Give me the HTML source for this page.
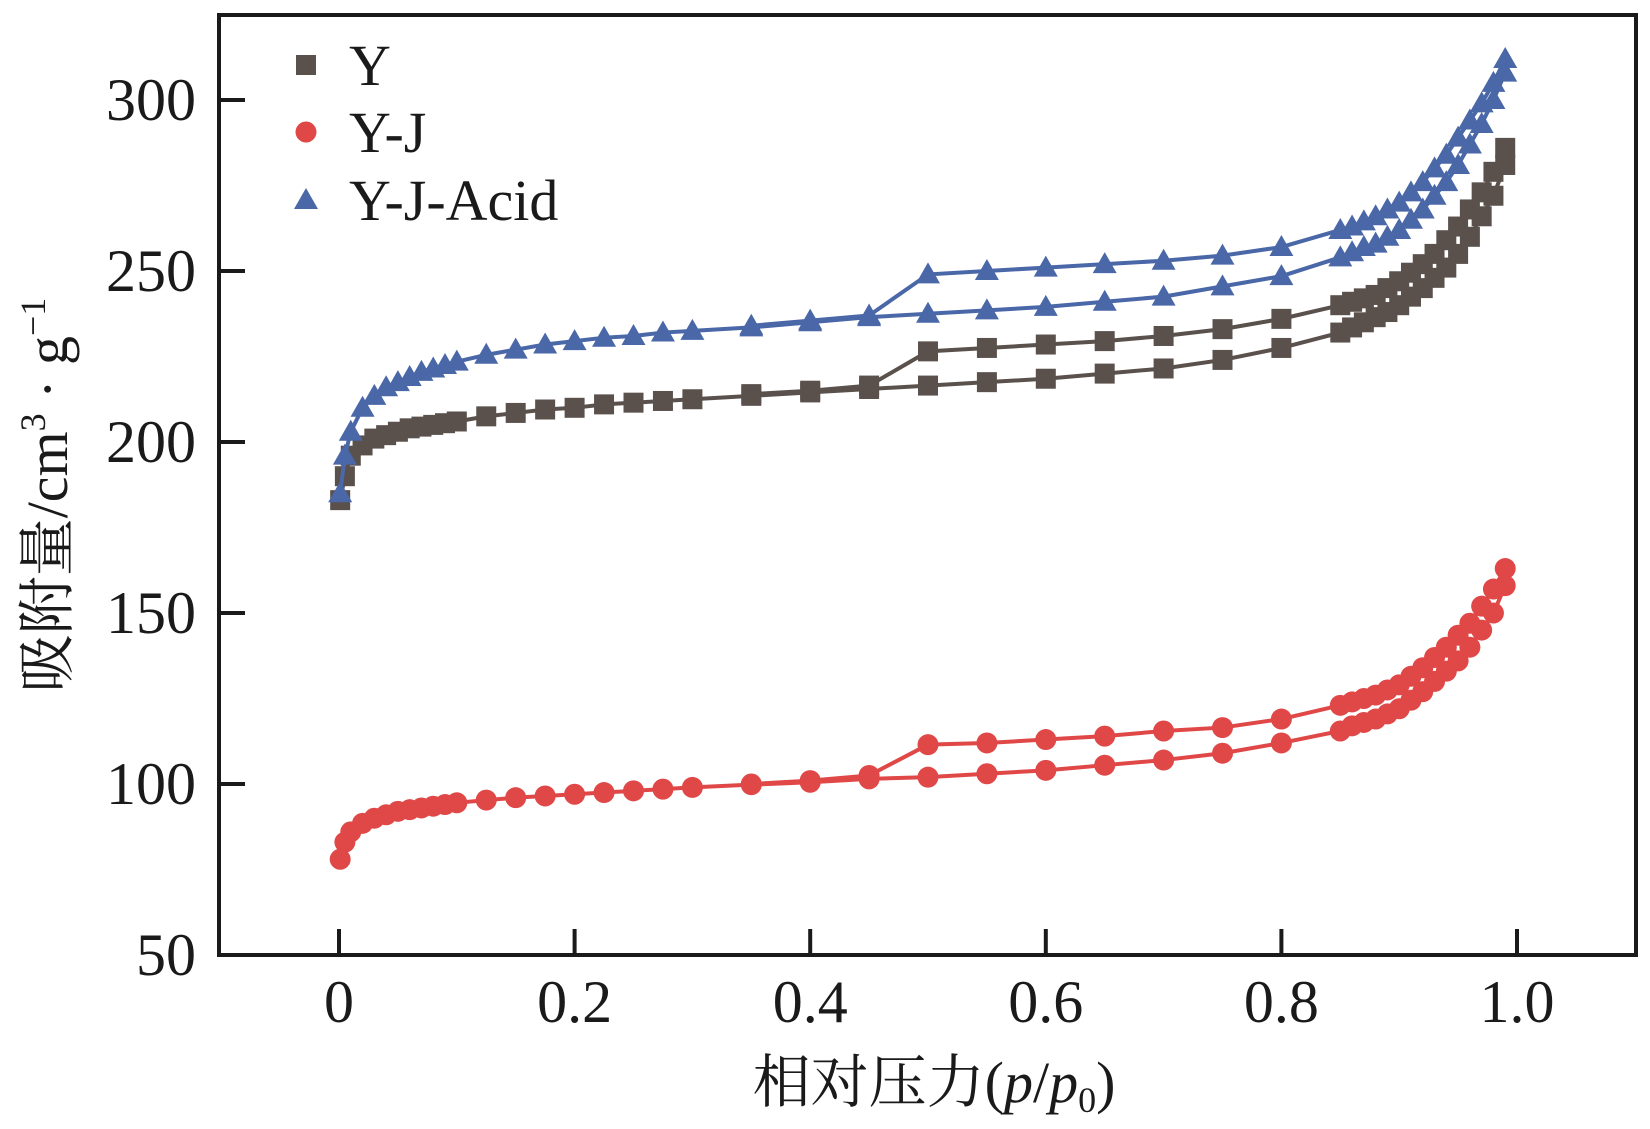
<!DOCTYPE html>
<html><head><meta charset="utf-8"><style>
html,body{margin:0;padding:0;background:#fff;}
svg{display:block;}
text{font-family:"Liberation Serif","Noto Serif CJK SC",serif;fill:#1a1a1a;}
</style></head><body>
<svg id="chart" width="1650" height="1129" viewBox="0 0 1650 1129" xmlns="http://www.w3.org/2000/svg">
<g id="marks"></g>
<g id="axes"></g>
</svg>
<script>
const xTicks=[0,0.2,0.4,0.6,0.8,1.0];
const xTickLabels=["0","0.2","0.4","0.6","0.8","1.0"];
const yTicks=[50,100,150,200,250,300];
const pAds=[0.001,0.005,0.01,0.02,0.03,0.04,0.05,0.06,0.07,0.08,0.09,0.1,0.125,0.15,0.175,0.2,0.225,0.25,0.275,0.3,0.35,0.4,0.45,0.5,0.55,0.6,0.65,0.7,0.75,0.8,0.85,0.86,0.87,0.88,0.89,0.9,0.91,0.92,0.93,0.94,0.95,0.96,0.97,0.98,0.99];
const pDes=[0.99,0.98,0.97,0.96,0.95,0.94,0.93,0.92,0.91,0.9,0.89,0.88,0.87,0.86,0.85,0.8,0.75,0.7,0.65,0.6,0.55,0.5,0.45,0.4,0.35];
const yAds=[183,190,196,199,201,202,203,204,204.5,205,205.5,206,207.5,208.5,209.5,210,211,211.5,212,212.5,213.5,214.5,215.5,216.5,217.5,218.5,220,221.5,224,227.5,232,233.5,235,236.5,238,240,242.5,245,248,251,255,260,266,272,281];
const yDes=[286,279,273,268,263,259,255,252,249.5,247,245,243,242,241,240,236,233,231,229.5,228.5,227.5,226.5,216.5,215,214];
const yjAds=[78,83,86,88.5,90,91,92,92.5,93,93.5,94,94.5,95.3,96,96.5,97,97.5,98,98.5,99,99.8,100.5,101.5,102,103,104,105.5,107,109,112,115.5,117,118,119,120.5,122,124.5,127,130,133,136,140,145,150,158];
const yjDes=[163,157,152,147,143.5,140,137,134,131.5,129,127.5,126,125,124,123,119,116.5,115.5,114,113,112,111.5,102.5,101,100];
const acAds=[185,196,203,210,213.5,216,217.5,219,220.5,221.5,222.5,223.5,225.5,227,228.5,229.5,230.5,231,232,232.5,233.5,235,236.5,237.5,238.5,239.5,241,242.5,245.5,248.5,254,255.5,257,258,260,262,265,268,272,276,281,287,293,300,308];
const acDes=[312,305,299,294,289,284,280,276,273,270,268,266,264.5,263,262,257,254.5,253,252,251,250,249,237,235.5,234];

const X0=219,X1=1636,Y0=15,Y1=955;
const xs=v=>339+v*1178;
const ys=v=>955-(v-50)*3.42;
const NS="http://www.w3.org/2000/svg";
const marks=document.getElementById('marks'),axes=document.getElementById('axes');
function mk(tag,attrs,parent){const e=document.createElementNS(NS,tag);for(const k in attrs)e.setAttribute(k,attrs[k]);parent.appendChild(e);return e;}

function marker(kind,x,y,color,parent){
  let e;
  if(kind==='sq'){e=mk('rect',{x:x-10,y:y-10,width:20,height:20,fill:color},parent);}
  else if(kind==='ci'){e=mk('circle',{cx:x,cy:y,r:10.5,fill:color},parent);}
  else{e=mk('polygon',{points:`${x},${y-12} ${x+12},${y+9} ${x-12},${y+9}`,fill:color},parent);}
  return e;
}
function series(name,kind,color,ads,des){
  const g=mk('g',{},marks);
  
  
  const d1=pAds.map((p,i)=>(i?'L':'M')+xs(p)+','+ys(ads[i])).join(' ');
  const d2=pDes.map((p,i)=>(i?'L':'M')+xs(p)+','+ys(des[i])).join(' ');
  const l1=mk('path',{d:d1,fill:'none',stroke:color,'stroke-width':4},g);
  
  
  const l2=mk('path',{d:d2,fill:'none',stroke:color,'stroke-width':4},g);
  
  
  pAds.forEach((p,i)=>{const m=marker(kind,xs(p),ys(ads[i]),color,g);
    
    });
  pDes.forEach((p,i)=>{const m=marker(kind,xs(p),ys(des[i]),color,g);
    
    });
}
series('y-j','ci','#e04848',yjAds,yjDes);
series('y','sq','#5a514d',yAds,yDes);
series('y-j-acid','tr','#4a67a8',acAds,acDes);

// frame
const fr=mk('rect',{x:X0,y:Y0,width:X1-X0,height:Y1-Y0,fill:'none',stroke:'#1a1a1a','stroke-width':4},axes);


xTicks.forEach((t,i)=>{
  const tk=mk('line',{x1:xs(t),x2:xs(t),y1:Y1,y2:Y1-26,stroke:'#1a1a1a','stroke-width':4},axes);
  
  
  const tx=mk('text',{x:xs(t),y:1022,'font-size':60,'text-anchor':'middle'},axes);
  tx.textContent=xTickLabels[i];
  
  
});
yTicks.forEach(t=>{
  const tk=mk('line',{x1:X0,x2:X0+26,y1:ys(t),y2:ys(t),stroke:'#1a1a1a','stroke-width':4},axes);
  
  
  const tx=mk('text',{x:196,y:ys(t)+20,'font-size':60,'text-anchor':'end'},axes);
  tx.textContent=String(t);
  
  
});
// legend
const leg=[['Y','sq','#5a514d',65],['Y-J','ci','#e04848',132],['Y-J-Acid','tr','#4a67a8',200]];
leg.forEach(l=>{
  const g=mk('g',{},axes);
  
  
  marker(l[1],306,l[3],l[2],g);
  const tx=mk('text',{x:349,y:l[3]+20,'font-size':58},g);
  tx.textContent=l[0];
});
// axis titles
const xt=mk('text',{x:934,y:1102,'font-size':58,'text-anchor':'middle'},axes);
xt.innerHTML='相对压力(<tspan font-style="italic">p</tspan>/<tspan font-style="italic">p</tspan><tspan font-size="36" dy="10">0</tspan><tspan dy="-10">)</tspan>';


const yt=mk('text',{transform:'translate(67,495) rotate(-90)','font-size':58,'text-anchor':'middle'},axes);
yt.innerHTML='吸附量/cm<tspan font-size="36" dy="-22">3</tspan><tspan dy="22"> · g</tspan><tspan font-size="36" dy="-22">−1</tspan>';


</script>
</body></html>
